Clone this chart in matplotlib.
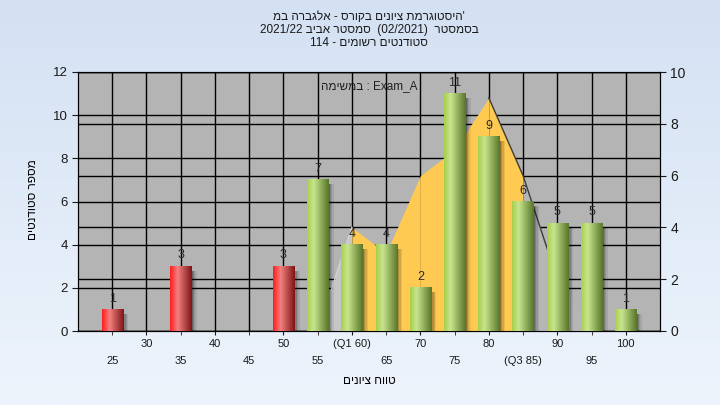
import re
import numpy as np
import matplotlib
matplotlib.use("Agg")
import matplotlib.pyplot as plt
from matplotlib.colors import LinearSegmentedColormap
from matplotlib.patches import Rectangle

plt.rcParams["font.family"] = ["Liberation Sans", "DejaVu Sans"]

# data
grades = [25, 30, 35, 40, 45, 50, 55, 60, 65, 70, 75, 80, 85, 90, 95, 100]
grade_labels = ["25", "30", "35", "40", "45", "50", "55", "(Q1 60)", "65", "70",
                "75", "80", "(Q3 85)", "90", "95", "100"]
students = [1, 0, 3, 0, 0, 3, 7, 4, 4, 2, 11, 9, 6, 5, 5, 1]
curve = [np.nan] * 6 + [0, 4, 3, 6, 7, 9, 6, 2, 0, np.nan]   # right axis
pass_grade = 55
q1, q3 = 60, 85
left_ticks = [0, 2, 4, 6, 8, 10, 12]
right_ticks = [0, 2, 4, 6, 8, 10]

title_lines = ["'היסטוגרמת ציונים בקורס - אלגברה במ",
               "בסמסטר  (02/2021)  סמסטר אביב 2021/22",
               "סטודנטים רשומים - 114"]
task_label = "Exam_A : במשימה"
x_title = "טווח ציונים"
y_title = "מספר סטודנטים"


def rtl(s):
    # matplotlib has no bidi: put Hebrew in visual order, keep LTR runs intact
    parts = re.findall(r"[A-Za-z0-9_./]+|.", s)
    mirror = {"(": ")", ")": "("}
    return "".join(mirror.get(p, p) for p in reversed(parts))


fig = plt.figure(figsize=(7.2, 4.05), dpi=100)

# figure background gradient
bg = fig.add_axes([0, 0, 1, 1], zorder=-10)
bg.imshow(np.linspace(0, 1, 256)[:, None], aspect="auto", extent=[0, 1, 0, 1],
          cmap=LinearSegmentedColormap.from_list("bg", ["#d3e1f3", "#eef4fc"]))
bg.axis("off")

rect = [78 / 720, 1 - 331 / 405, 582 / 720, 259 / 405]
ax = fig.add_axes(rect)
ax2 = ax.twinx()
ax.set_zorder(3); ax2.set_zorder(2)
ax.patch.set_visible(False)
ax2.patch.set_visible(True); ax2.patch.set_facecolor("#b4b4b4")

xs = np.arange(len(grades))
ax.set_xlim(-1, len(grades)); ax.set_ylim(0, 12)
ax2.set_ylim(0, 10)

# grid (under the area)
ax2.vlines(xs, 0, 1, transform=ax2.get_xaxis_transform(), color="black", lw=1, zorder=1)
ax2.hlines(left_ticks, 0, 1, transform=ax.get_yaxis_transform(), color="black", lw=1, zorder=1)
ax2.hlines(right_ticks, 0, 1, transform=ax2.get_yaxis_transform(), color="black", lw=1, zorder=1)

# area curve: yellow between Q1 and Q3
cv = np.array(curve, dtype=float)
for i in range(len(grades) - 1):
    if np.isnan(cv[i]) or np.isnan(cv[i + 1]):
        continue
    if grades[i] >= q1 and grades[i + 1] <= q3:
        c = "#ffca52"
    elif grades[i] < q1:
        c = "#c6c6c6"
    else:
        c = "#b6b6b6"
    ax2.fill_between(xs[i:i + 2], 0, cv[i:i + 2], color=c, lw=0, zorder=3)
g = np.array(grades)
m = (g >= 80) & (g <= 90)
ax2.plot(xs[m], cv[m], color="#3c3c3c", lw=1, zorder=4)
m = (g >= 55) & (g <= 60)
ax2.plot(xs[m], cv[m], color="#d2d2d2", lw=1, zorder=4)

# cylinder-like bars
red = LinearSegmentedColormap.from_list("r", [(0, "#ff1e1e"), (0.35, "#f28080"), (1, "#7e1414")])
green = LinearSegmentedColormap.from_list("g", [(0, "#a6cf4c"), (0.3, "#c9e58f"), (1, "#587629")])
grad = np.linspace(0, 1, 64)[None, :]
w = 0.62
for x, gr, n in zip(xs, grades, students):
    if n == 0:
        continue
    for k, a in enumerate([0.45, 0.3, 0.18, 0.08]):
        ax.add_patch(Rectangle((x + w / 2 + 0.04 * k, 0), 0.04, n - 0.2,
                               color="black", alpha=a, lw=0, zorder=2))
    ax.imshow(grad, extent=[x - w / 2, x + w / 2, 0, n], aspect="auto",
              cmap=red if gr < pass_grade else green, interpolation="bilinear", zorder=3)
    ax.annotate(str(n), (x, n), xytext=(0, 3.5), textcoords="offset points",
                ha="center", va="bottom", fontsize=9, color="#2a2a2a", zorder=5)
ax.set_xlim(-1, len(grades)); ax.set_ylim(0, 12)

ax.text(0.5, 0.946, rtl(task_label), transform=ax.transAxes, ha="center", va="center",
        fontsize=8.5, color="#202020")

# ticks: two staggered rows of grade labels
ax.set_xticks(xs[1::2], [grade_labels[i] for i in xs[1::2]])
ax.set_xticks(xs[0::2], [grade_labels[i] for i in xs[0::2]], minor=True)
ax.tick_params(axis="x", which="major", length=3, pad=3, labelsize=8, colors="#1a1a1a")
ax.tick_params(axis="x", which="minor", length=3, pad=15, labelsize=8, colors="#1a1a1a")
ax.set_yticks(left_ticks)
ax.tick_params(axis="y", length=4, labelsize=9.5, colors="#1a1a1a")
ax2.set_yticks(right_ticks)
ax2.tick_params(axis="y", length=4, labelsize=10, colors="#1a1a1a")
for a in (ax, ax2):
    for s in a.spines.values():
        s.set_color("black")

for j, line in enumerate(title_lines):
    fig.text(369 / 720, 1 - (17 + 13 * j) / 405, rtl(line), ha="center", va="center",
             fontsize=8.5, color="#1a1a1a")
fig.text(369 / 720, 1 - 381 / 405, rtl(x_title), ha="center", va="center", fontsize=8.5)
fig.text(33 / 720, 1 - 200 / 405, rtl(y_title), ha="center", va="center", fontsize=8.5,
         rotation=90)

fig.savefig("out.png", dpi=100)
